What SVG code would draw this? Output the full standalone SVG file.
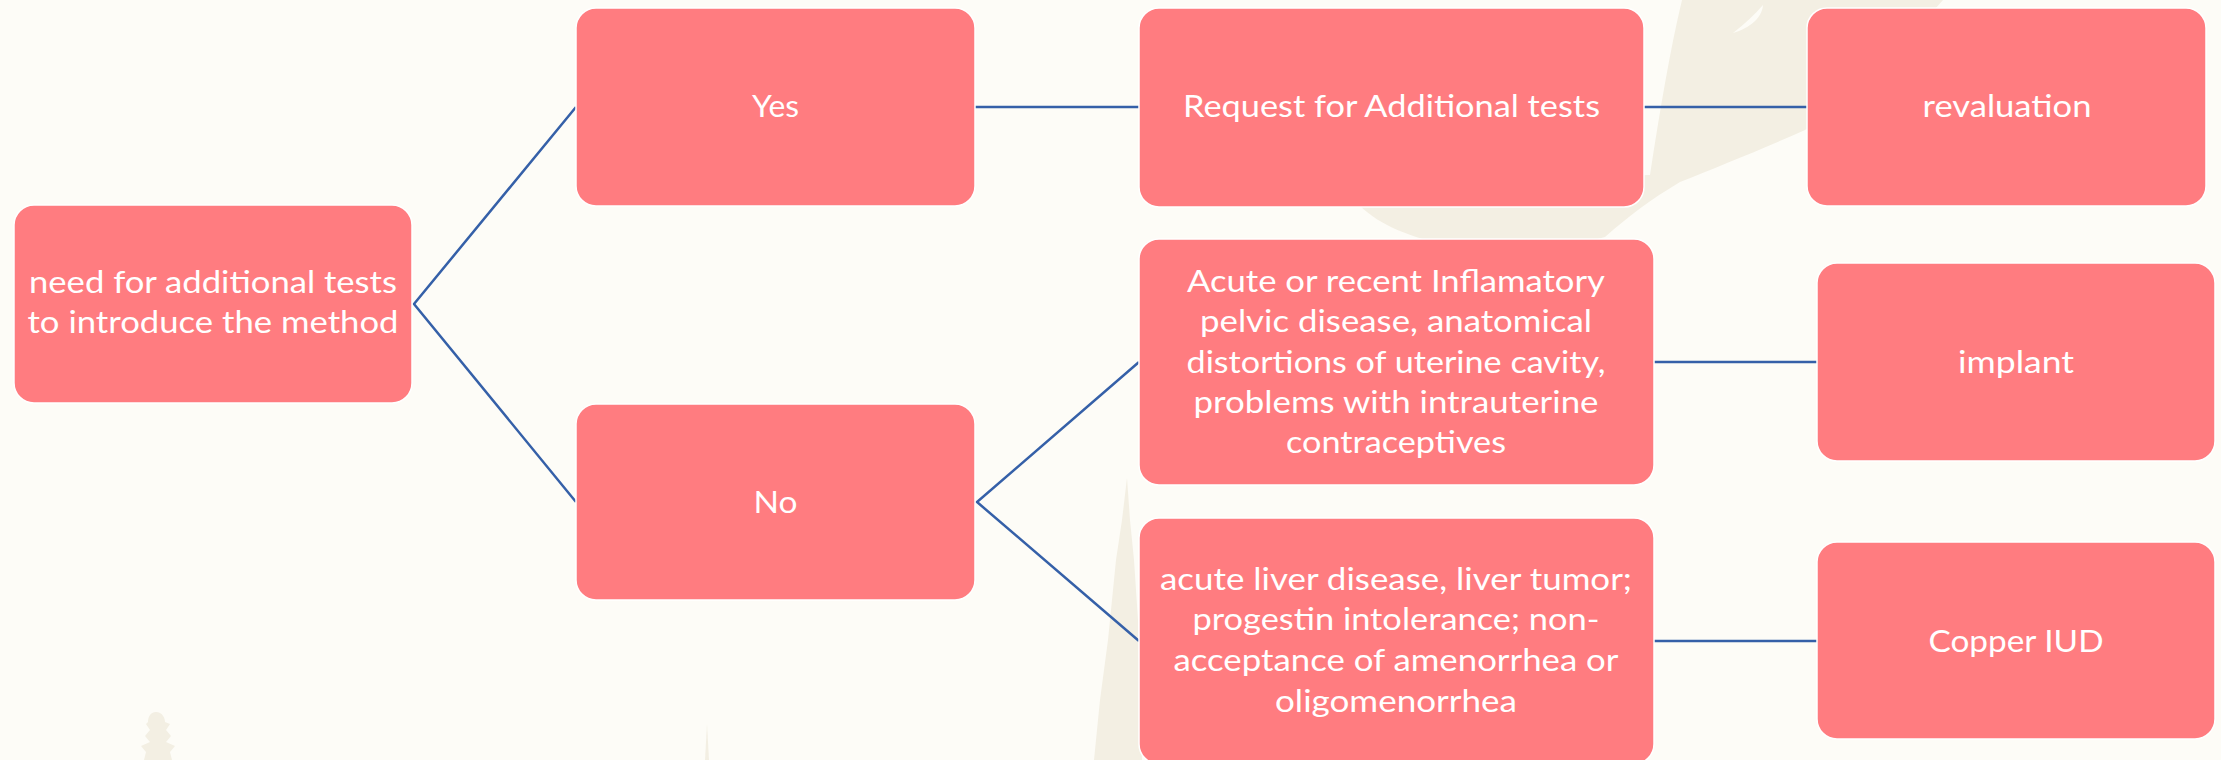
<svg xmlns="http://www.w3.org/2000/svg" width="2221" height="760" viewBox="0 0 2221 760">
<style>
  .box { fill: #FF7C80; stroke: #FFFFFF; stroke-width: 1.5; }
  .lbl { font-family: Lato, "Open Sans", "Liberation Sans", sans-serif; font-size: 31px; fill: #FFFFFF; text-anchor: middle; }
  .conn { stroke: #3560A8; stroke-width: 2.5; fill: none; }
  .deco { fill: #F3EFE3; }
</style>
<rect x="0" y="0" width="2221" height="760" fill="#FDFCF7"/>
<g id="background">
  <path class="deco" d="M1682,0 L1943,0 C1890,60 1850,105 1805,130 C1760,150 1715,168 1680,182 C1650,200 1630,215 1605,237 C1560,250 1500,252 1450,245 C1410,238 1380,225 1360,206 L1380,180 L1650,175 C1660,110 1670,50 1682,0 Z"/>
  <path d="M1733,33 C1750,28 1762,18 1763,5 C1755,14 1745,24 1733,33 Z" fill="#FDFCF7"/>
  <path class="deco" d="M1127,478 L1130,520 L1134,560 L1138,620 L1140,700 L1142,760 L1094,760 L1100,700 L1108,640 L1116,560 L1122,520 Z"/>
  <path class="deco" d="M156,712 C150,712 148,718 148,722 L146,724 L150,730 L145,736 L150,742 L141,746 L146,752 L144,760 L172,760 L170,752 L175,746 L166,742 L171,736 L166,730 L170,724 L165,722 C165,718 162,712 156,712 Z"/>
  <path class="deco" d="M707,724 L709,760 L705,760 Z"/>
</g>
<g id="connectors">
  <polyline class="conn" points="576,107 414,304 576,502"/>
  <line class="conn" x1="975" y1="107" x2="1139" y2="107"/>
  <line class="conn" x1="1644" y1="107" x2="1807" y2="107"/>
  <polyline class="conn" points="1139,362 977,502 1139,641"/>
  <line class="conn" x1="1654" y1="362" x2="1817" y2="362"/>
  <line class="conn" x1="1654" y1="641" x2="1817" y2="641"/>
</g>
<g id="node-root">
  <rect class="box" x="14" y="205" width="398" height="198" rx="20"/>
  <text class="lbl" x="213" y="293" textLength="368" lengthAdjust="spacingAndGlyphs">need for additional tests</text>
  <text class="lbl" x="213" y="333" textLength="371" lengthAdjust="spacingAndGlyphs">to introduce the method</text>
</g>
<g id="node-yes">
  <rect class="box" x="576" y="8" width="399" height="198" rx="20"/>
  <text class="lbl" x="775.5" y="117" textLength="47" lengthAdjust="spacingAndGlyphs">Yes</text>
</g>
<g id="node-no">
  <rect class="box" x="576" y="404" width="399" height="196" rx="20"/>
  <text class="lbl" x="775.5" y="513" textLength="44" lengthAdjust="spacingAndGlyphs">No</text>
</g>
<g id="node-request">
  <rect class="box" x="1139" y="8" width="505" height="199" rx="20"/>
  <text class="lbl" x="1391.5" y="117" textLength="417" lengthAdjust="spacingAndGlyphs">Request for Additional tests</text>
</g>
<g id="node-revaluation">
  <rect class="box" x="1807" y="8" width="399" height="198" rx="20"/>
  <text class="lbl" x="2007" y="117" textLength="169" lengthAdjust="spacingAndGlyphs">revaluation</text>
</g>
<g id="node-acute">
  <rect class="box" x="1139" y="239" width="515" height="246" rx="20"/>
  <text class="lbl" x="1396" y="292" textLength="418" lengthAdjust="spacingAndGlyphs">Acute or recent Inflamatory</text>
  <text class="lbl" x="1396" y="332" textLength="392" lengthAdjust="spacingAndGlyphs">pelvic disease, anatomical</text>
  <text class="lbl" x="1396" y="373" textLength="419" lengthAdjust="spacingAndGlyphs">distortions of uterine cavity,</text>
  <text class="lbl" x="1396" y="413" textLength="405" lengthAdjust="spacingAndGlyphs">problems with intrauterine</text>
  <text class="lbl" x="1396" y="453" textLength="220" lengthAdjust="spacingAndGlyphs">contraceptives</text>
</g>
<g id="node-implant">
  <rect class="box" x="1817" y="263" width="398" height="198" rx="20"/>
  <text class="lbl" x="2016" y="373" textLength="116" lengthAdjust="spacingAndGlyphs">implant</text>
</g>
<g id="node-liver">
  <rect class="box" x="1139" y="518" width="515" height="246" rx="20"/>
  <text class="lbl" x="1396" y="590" textLength="472" lengthAdjust="spacingAndGlyphs">acute liver disease, liver tumor;</text>
  <text class="lbl" x="1396" y="630" textLength="407" lengthAdjust="spacingAndGlyphs">progestin intolerance; non-</text>
  <text class="lbl" x="1396" y="671" textLength="445" lengthAdjust="spacingAndGlyphs">acceptance of amenorrhea or</text>
  <text class="lbl" x="1396" y="712" textLength="242" lengthAdjust="spacingAndGlyphs">oligomenorrhea</text>
</g>
<g id="node-copper">
  <rect class="box" x="1817" y="542" width="398" height="197" rx="20"/>
  <text class="lbl" x="2016" y="652" textLength="175" lengthAdjust="spacingAndGlyphs">Copper IUD</text>
</g>
</svg>
